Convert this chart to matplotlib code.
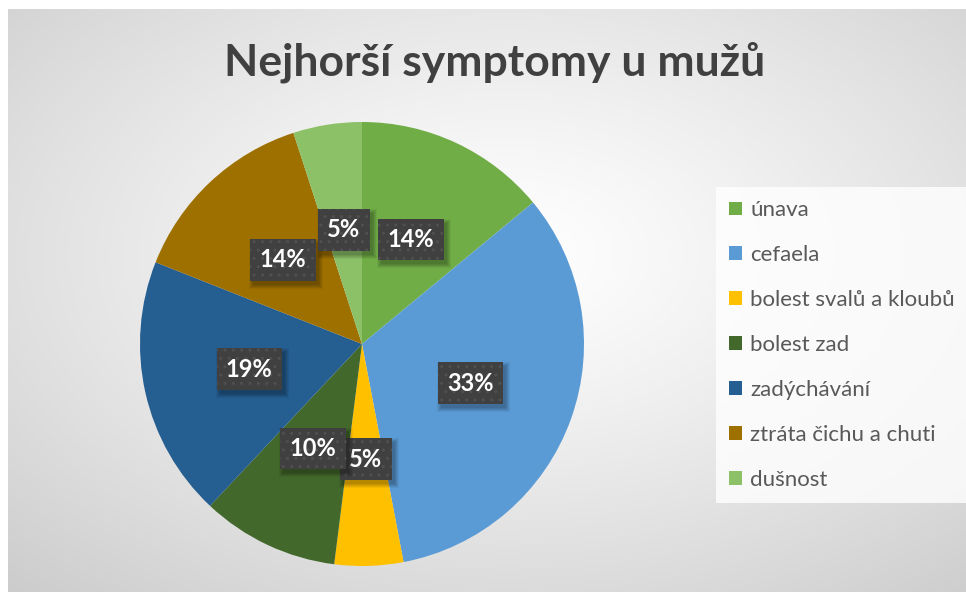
import numpy as np
import matplotlib
matplotlib.use("Agg")
import matplotlib.pyplot as plt
from matplotlib.patches import Rectangle

categories = ["únava", "cefaela", "bolest svalů a kloubů", "bolest zad",
              "zadýchávání", "ztráta čichu a chuti", "dušnost"]
values = [14, 33, 5, 10, 19, 14, 5]
colors = ["#70AD47", "#5B9BD5", "#FFC000", "#43682B", "#255E91", "#9E7000", "#8CC168"]
title = "Nejhorší symptomy u mužů"

FONT = ["Lato", "DejaVu Sans"]
W, H = 966, 592
fig = plt.figure(figsize=(W / 100, H / 100), dpi=100, facecolor="white")

# background radial gradient
bg = fig.add_axes([8 / W, 0, (W - 8) / W, (H - 9) / H], zorder=0)
ny, nx = 300, 500
yy, xx = np.mgrid[0:ny, 0:nx]
cx, cy = nx * 0.52, ny * 0.42
d = np.sqrt(((xx - cx) / nx) ** 2 + ((yy - cy) / ny) ** 2)
d = d / d.max()
c0 = np.array([1.0, 1.0, 1.0])
c1 = np.array([0.80, 0.80, 0.80])
t = np.clip(d, 0, 1)[..., None] ** 1.2
img = c0 * (1 - t) + c1 * t
bg.imshow(img, aspect="auto", extent=[0, 1, 0, 1], origin="upper")
bg.set_axis_off()

# pie
R = 222
cxp, cyp = 362, H - 344
ax = fig.add_axes([(cxp - R) / W, (cyp - R) / H, 2 * R / W, 2 * R / H], zorder=2)
ax.set_facecolor("none")
wedges, texts, autotexts = ax.pie(
    values, colors=colors, startangle=90, counterclock=False, radius=1,
    autopct=lambda p: f"{p:.0f}%", pctdistance=0.52,
    wedgeprops=dict(linewidth=0),
    textprops=dict(color="white", fontsize=17, fontweight="bold", family=FONT),
)
ax.set_xlim(-1, 1)
ax.set_ylim(-1, 1)
ax.set_aspect("equal")
ax.set_axis_off()

for i, at in enumerate(autotexts):
    at.set_bbox(dict(boxstyle="square,pad=0.4", facecolor="#404040",
                     edgecolor="#505050", linewidth=0, hatch=".."))
    at.set_zorder(10 + 2 * i)

fig.text(495 / W, 1 - 62 / H, title, ha="center", va="center", fontsize=32,
         fontweight="bold", color="#404040", family=FONT)

leg = fig.legend(wedges, categories, loc="upper left",
                 bbox_to_anchor=(716 / W, 1 - 187 / H), frameon=True,
                 prop=dict(family=FONT, size=16),
                 handlelength=0.58, handleheight=0.58, handletextpad=0.35,
                 labelspacing=1.12, borderpad=0.6, borderaxespad=0)
leg.get_frame().set_facecolor((1, 1, 1, 0.08))
leg.get_frame().set_edgecolor("none")
leg.get_frame().set_boxstyle("square,pad=0")
for t_ in leg.get_texts():
    t_.set_color("#595959")
leg.set_zorder(4)

# soft shadows behind label boxes (drawn in pixel coordinates)
fig.canvas.draw()
for i, at in enumerate(autotexts):
    bb = at.get_bbox_patch().get_window_extent()
    for k, a in enumerate([0.07, 0.07, 0.07, 0.06, 0.05]):
        g = k * 1.0
        sh = Rectangle((bb.x0 + 3 - g, bb.y0 - 4 - g), bb.width + 2 * g, bb.height + 2 * g,
                       transform=None, facecolor="black", alpha=a, linewidth=0,
                       zorder=10 + 2 * i - 1)
        ax.add_artist(sh)

fig.savefig("out.png", dpi=100, facecolor="white")
